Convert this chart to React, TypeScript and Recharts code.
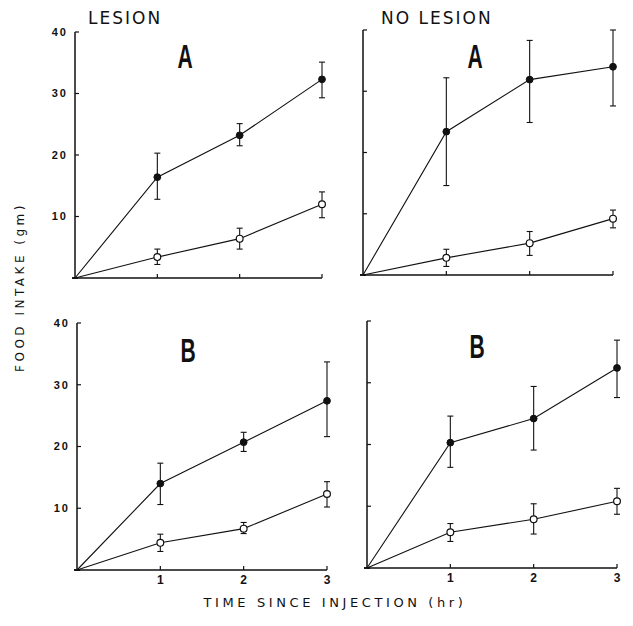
import { ErrorBar, Line, LineChart, XAxis, YAxis } from 'recharts';

const hours = [0, 1, 2, 3];

// Panel A, lesion
const aLesionFilled = [0, 16.4, 23.2, 32.3];
const aLesionFilledLo = [0, 12.8, 21.5, 29.3];
const aLesionFilledHi = [0, 20.3, 25.1, 35.1];
const aLesionOpen = [0, 3.4, 6.4, 12.0];
const aLesionOpenLo = [0, 2.2, 4.7, 9.8];
const aLesionOpenHi = [0, 4.7, 8.1, 14.0];

// Panel A, no lesion
const aNoLesionFilled = [0, 23.4, 31.9, 34.0];
const aNoLesionFilledLo = [0, 14.6, 24.9, 27.6];
const aNoLesionFilledHi = [0, 32.2, 38.3, 40.0];
const aNoLesionOpen = [0, 2.8, 5.2, 9.2];
const aNoLesionOpenLo = [0, 1.4, 3.2, 7.7];
const aNoLesionOpenHi = [0, 4.2, 7.1, 10.6];

// Panel B, lesion
const bLesionFilled = [0, 14.0, 20.7, 27.4];
const bLesionFilledLo = [0, 10.6, 19.2, 21.6];
const bLesionFilledHi = [0, 17.3, 22.3, 33.7];
const bLesionOpen = [0, 4.4, 6.7, 12.3];
const bLesionOpenLo = [0, 3.0, 5.9, 10.2];
const bLesionOpenHi = [0, 5.8, 7.7, 14.3];

// Panel B, no lesion
const bNoLesionFilled = [0, 20.3, 24.2, 32.4];
const bNoLesionFilledLo = [0, 16.3, 19.1, 27.6];
const bNoLesionFilledHi = [0, 24.6, 29.4, 36.9];
const bNoLesionOpen = [0, 5.8, 7.9, 10.8];
const bNoLesionOpenLo = [0, 4.3, 5.5, 8.7];
const bNoLesionOpenHi = [0, 7.2, 10.4, 12.9];

const yTicks = [10, 20, 30, 40];
const xTicks = [1, 2, 3];

function buildRows(f: number[], fLo: number[], fHi: number[], o: number[], oLo: number[], oHi: number[]) {
  return hours.map((t, i) => ({
    t,
    filled: f[i],
    filledErr: [f[i] - fLo[i], fHi[i] - f[i]],
    open: o[i],
    openErr: [o[i] - oLo[i], oHi[i] - o[i]],
  }));
}

const INK = '#111';
const tickFont = { fontFamily: 'Liberation Sans, Arial, sans-serif', fontWeight: 700, fill: INK };

const filledDot = (p: any) =>
  p.index === 0 ? <g key={p.key} /> : <circle key={p.key} cx={p.cx} cy={p.cy} r={3.4} fill={INK} stroke={INK} />;
const openDot = (p: any) =>
  p.index === 0 ? <g key={p.key} /> : <circle key={p.key} cx={p.cx} cy={p.cy} r={3.4} fill="#fff" stroke={INK} strokeWidth={1.2} />;

interface PanelProps {
  rows: ReturnType<typeof buildRows>;
  left: number;
  top: number;
  width: number;
  height: number;
  showY: boolean;
  showX: boolean;
}

function Panel({ rows, left, top, width, height, showY, showX }: PanelProps) {
  return (
    <div style={{ position: 'absolute', left, top }}>
      <LineChart width={width} height={height} data={rows} margin={{ top: 10, right: 10, left: 0, bottom: 0 }}>
        <XAxis
          type="number"
          dataKey="t"
          domain={[0, 3]}
          ticks={xTicks}
          height={30}
          stroke={INK}
          axisLine={{ stroke: INK, strokeWidth: 1.5 }}
          tickLine={{ stroke: INK, strokeWidth: 1.2 }}
          tickSize={-4}
          tickMargin={9}
          tick={{ ...tickFont, fontSize: 12 }}
          tickFormatter={(v) => (showX ? String(v) : '')}
        />
        <YAxis
          type="number"
          domain={[0, 40]}
          ticks={yTicks}
          width={40}
          stroke={INK}
          axisLine={{ stroke: INK, strokeWidth: 1.5 }}
          tickLine={{ stroke: INK, strokeWidth: 1.2 }}
          tickSize={-4}
          tickMargin={11}
          tick={{ ...tickFont, fontSize: 11, letterSpacing: 2 }}
          tickFormatter={(v) => (showY ? String(v) : '')}
        />
        <Line
          type="linear"
          dataKey="filled"
          stroke={INK}
          strokeWidth={1.1}
          dot={filledDot}
          activeDot={false}
          isAnimationActive={false}
        >
          <ErrorBar dataKey="filledErr" direction="y" width={3} stroke={INK} strokeWidth={1.1} />
        </Line>
        <Line
          type="linear"
          dataKey="open"
          stroke={INK}
          strokeWidth={1.1}
          dot={openDot}
          activeDot={false}
          isAnimationActive={false}
        >
          <ErrorBar dataKey="openErr" direction="y" width={3} stroke={INK} strokeWidth={1.1} />
        </Line>
      </LineChart>
    </div>
  );
}

const headFont = 'DejaVu Sans, Liberation Sans, sans-serif';

function Letter({ text, x, y }: { text: string; x: number; y: number }) {
  return (
    <div
      style={{
        position: 'absolute',
        left: x - 20,
        top: y - 20,
        width: 40,
        height: 40,
        lineHeight: '40px',
        textAlign: 'center',
        fontFamily: 'Liberation Sans, Arial, sans-serif',
        fontWeight: 700,
        fontSize: 34,
        color: INK,
        transform: 'scaleX(0.62)',
      }}
    >
      {text}
    </div>
  );
}

export default function App() {
  const rowsAL = buildRows(aLesionFilled, aLesionFilledLo, aLesionFilledHi, aLesionOpen, aLesionOpenLo, aLesionOpenHi);
  const rowsAN = buildRows(aNoLesionFilled, aNoLesionFilledLo, aNoLesionFilledHi, aNoLesionOpen, aNoLesionOpenLo, aNoLesionOpenHi);
  const rowsBL = buildRows(bLesionFilled, bLesionFilledLo, bLesionFilledHi, bLesionOpen, bLesionOpenLo, bLesionOpenHi);
  const rowsBN = buildRows(bNoLesionFilled, bNoLesionFilledLo, bNoLesionFilledHi, bNoLesionOpen, bNoLesionOpenLo, bNoLesionOpenHi);

  return (
    <div style={{ position: 'absolute', left: 0, top: 0, width: 633, height: 626, background: '#fff', overflow: 'hidden' }}>
      <div style={{ position: 'absolute', left: 88, top: 8, fontFamily: headFont, fontSize: 17, letterSpacing: 2, color: INK }}>
        LESION
      </div>
      <div style={{ position: 'absolute', left: 381, top: 8, fontFamily: headFont, fontSize: 17, letterSpacing: 2, color: INK }}>
        NO LESION
      </div>

      <Panel rows={rowsAL} left={35} top={22} width={297} height={286} showY showX={false} />
      <Panel rows={rowsAN} left={323} top={20} width={300} height={285} showY={false} showX={false} />
      <Panel rows={rowsBL} left={37} top={313} width={300} height={287} showY showX />
      <Panel rows={rowsBN} left={327} top={311} width={300} height={287} showY={false} showX />

      <Letter text="A" x={185} y={56} />
      <Letter text="A" x={475} y={56} />
      <Letter text="B" x={188} y={350} />
      <Letter text="B" x={477} y={346} />

      <div
        style={{
          position: 'absolute',
          left: 20 - 120,
          top: 287 - 9,
          width: 240,
          height: 18,
          lineHeight: '18px',
          textAlign: 'center',
          transform: 'rotate(-90deg)',
          fontFamily: headFont,
          fontSize: 12,
          letterSpacing: 3.5,
          color: INK,
        }}
      >
        FOOD INTAKE (gm)
      </div>
      <div
        style={{
          position: 'absolute',
          left: 130,
          top: 595,
          width: 410,
          textAlign: 'center',
          fontFamily: headFont,
          fontSize: 13,
          letterSpacing: 3.6,
          color: INK,
        }}
      >
        TIME SINCE INJECTION (hr)
      </div>
    </div>
  );
}
